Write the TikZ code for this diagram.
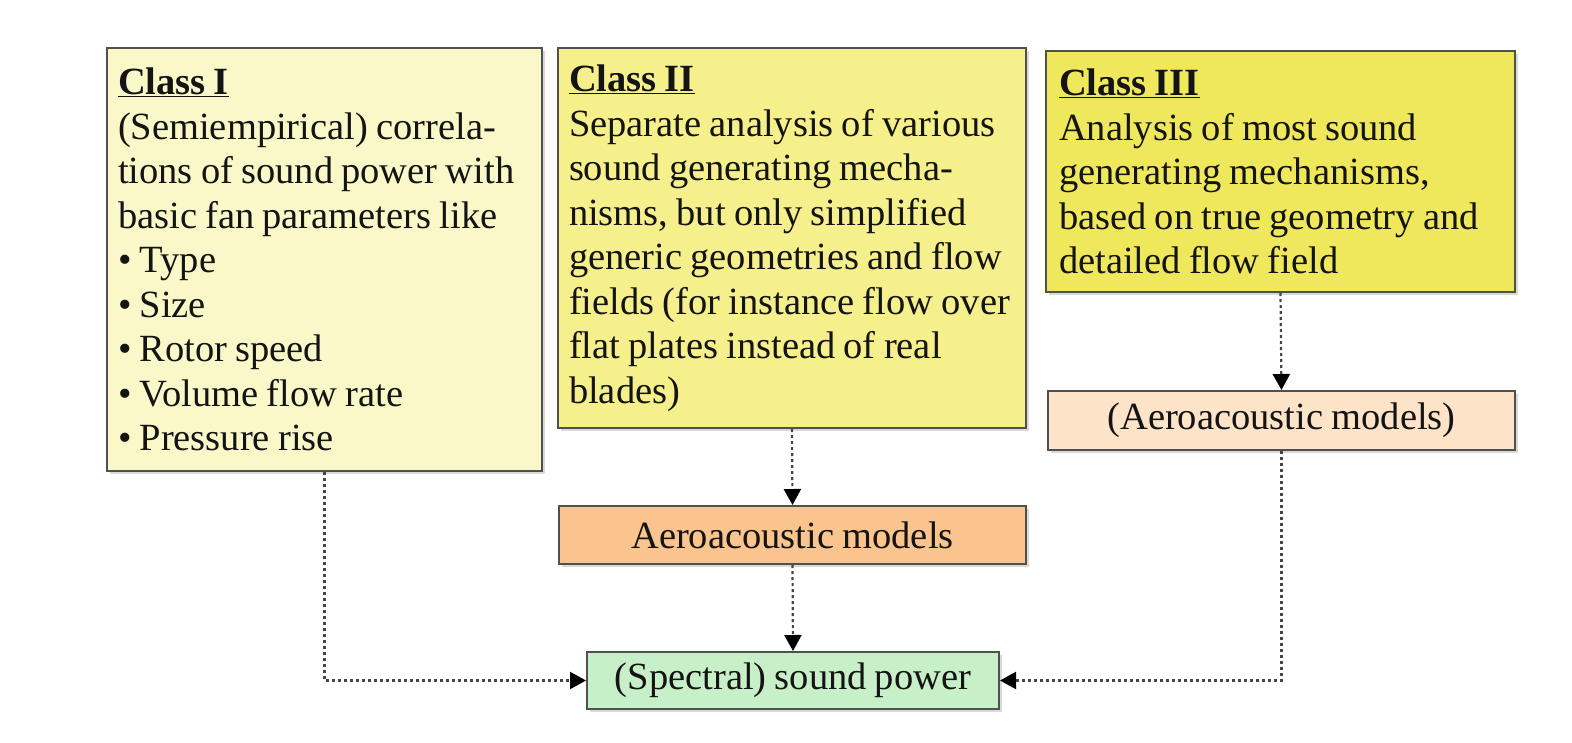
\documentclass[tikz,border=0pt]{standalone}
\usepackage{fontspec}
\setmainfont[WordSpace=0.85]{Liberation Serif}
\usetikzlibrary{arrows.meta,shadows}
\definecolor{cOne}{RGB}{250,248,200}
\definecolor{cTwo}{RGB}{245,240,140}
\definecolor{cThree}{RGB}{239,232,92}
\definecolor{cAeroL}{RGB}{253,227,200}
\definecolor{cAero}{RGB}{250,196,142}
\definecolor{cSpec}{RGB}{200,240,200}
\definecolor{cBorder}{RGB}{80,80,80}
\definecolor{cLink}{RGB}{70,70,70}
\tikzset{
  box/.style={draw=cBorder, line width=2pt, anchor=north west, inner sep=0pt,
    font=\fontsize{38.5}{44.5}\selectfont, text=black!92,
    drop shadow={opacity=0.3, shadow xshift=2.5pt, shadow yshift=-2.5pt}},
  textbox/.style={box, align=flush left},
  link/.style={draw=cLink, line width=2.2pt, dash pattern=on 3pt off 3pt,
    -{Triangle[width=17pt,length=16pt,color=black,fill=black]}}
}
\begin{document}
\begin{tikzpicture}[x=1pt,y=-1pt]
\useasboundingbox (0,0) rectangle (1572,742);
\node[textbox, fill=cOne, minimum width=435pt, minimum height=423pt, text width=413pt] (c1) at (106,47)
 {\textbf{\underline{Class I}}\\
  (Semiempirical) correla-\\
  tions of sound power with\\
  basic fan parameters like\\
  • Type\\
  • Size\\
  • Rotor speed\\
  • Volume flow rate\\
  • Pressure rise};
\node[textbox, fill=cTwo, minimum width=468pt, minimum height=380pt, text width=446pt] (c2) at (557,47)
 {\textbf{\underline{Class II}}\\
  Separate analysis of various\\
  sound generating mecha-\\
  nisms, but only simplified\\
  generic geometries and flow\\
  fields (for instance flow over\\
  flat plates instead of real\\
  blades)};
\node[textbox, fill=cThree, minimum width=469pt, minimum height=241pt, text width=443pt] (c3) at (1045,50)
 {\textbf{\underline{Class III}}\\
  Analysis of most sound\\
  generating mechanisms,\\
  based on true geometry and\\
  detailed flow field};
\node[box, fill=cAeroL, minimum width=467pt, minimum height=59pt] (a3) at (1047,390) {(Aeroacoustic models)};
\node[box, fill=cAero, minimum width=467pt, minimum height=58pt] (a2) at (558,505) {Aeroacoustic models};
\node[box, fill=cSpec, minimum width=412pt, minimum height=57pt] (sp) at (586,651) {(Spectral) sound power};
\draw[link] (c2.south) -- (a2.north);
\draw[link] (a2.south) -- (sp.north);
\draw[link] (c3.south) -- (a3.north);
\draw[link] (a3.south) |- (sp.east);
\draw[link] (c1.south) |- (sp.west);
\end{tikzpicture}
\end{document}
